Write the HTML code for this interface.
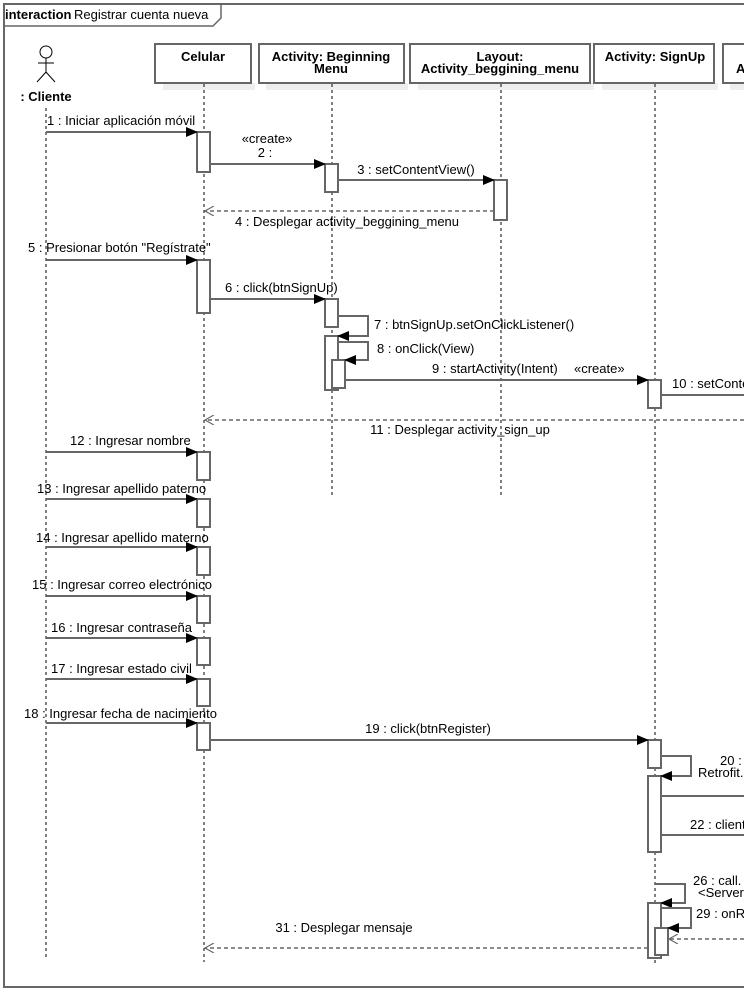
<!DOCTYPE html>
<html><head><meta charset="utf-8"><style>
body{margin:0;background:#fff}
svg{display:block}
text{font-family:"Liberation Sans",Arial,sans-serif;font-size:13px;fill:#000}
.b{font-weight:bold}
.ll{stroke:#000;stroke-width:1;stroke-dasharray:3,3}
.m{stroke:#666;stroke-width:2;fill:none}
.d{stroke:#666;stroke-width:1.5;fill:none;stroke-dasharray:4,3}
.a{fill:#fff;stroke:#666;stroke-width:2}
.h{fill:#fff;stroke:#666;stroke-width:2}
</style></head><body>
<svg width="744" height="997" viewBox="0 0 744 997">
<defs>
<marker id="f" markerWidth="12" markerHeight="10" refX="11" refY="5" orient="auto" markerUnits="userSpaceOnUse"><path d="M0,0 L12,5 L0,10z" fill="#000"/></marker>
<marker id="o" markerWidth="10" markerHeight="10" refX="9" refY="5" orient="auto" markerUnits="userSpaceOnUse"><path d="M0,0 L9,5 L0,10" fill="none" stroke="#666" stroke-width="1.2"/></marker>
</defs>
<rect x="4" y="4" width="760" height="983" fill="none" stroke="#666" stroke-width="2"/>
<path d="M4,26 L213,26 L221,18 L221,4" fill="none" stroke="#666" stroke-width="1.5"/>
<text x="5" y="19" class="b">interaction</text><text x="74" y="19">Registrar cuenta nueva</text>

<g fill="#eee"><rect x="163" y="83" width="92" height="7"/><rect x="266" y="83" width="142" height="7"/><rect x="418" y="83" width="176" height="7"/><rect x="602" y="83" width="116" height="7"/><rect x="730" y="83" width="20" height="7"/></g>
<rect class="h" x="155" y="44" width="96" height="39"/>
<rect class="h" x="259" y="44" width="145" height="39"/>
<rect class="h" x="410" y="44" width="180" height="39"/>
<rect class="h" x="594" y="44" width="120" height="39"/>
<rect class="h" x="723" y="44" width="40" height="39"/>
<text x="203" y="61" class="b" text-anchor="middle">Celular</text>
<text x="331" y="61" class="b" text-anchor="middle">Activity: Beginning</text>
<text x="331" y="73" class="b" text-anchor="middle">Menu</text>
<text x="500" y="61" class="b" text-anchor="middle">Layout:</text>
<text x="500" y="73" class="b" text-anchor="middle">Activity_beggining_menu</text>
<text x="655" y="61" class="b" text-anchor="middle">Activity: SignUp</text>
<text x="736" y="73" class="b">A</text>

<g stroke="#000" stroke-width="1" fill="none"><circle cx="46" cy="52" r="6"/><line x1="46" y1="58" x2="46" y2="72"/><line x1="38" y1="63" x2="54" y2="63"/><line x1="46" y1="72" x2="37" y2="82"/><line x1="46" y1="72" x2="55" y2="82"/></g>
<text x="46" y="101" class="b" text-anchor="middle">: Cliente</text>

<line class="ll" x1="46" y1="108" x2="46" y2="960"/>
<line class="ll" x1="204" y1="84" x2="204" y2="962"/>
<line class="ll" x1="332" y1="84" x2="332" y2="498"/>
<line class="ll" x1="501" y1="84" x2="501" y2="498"/>
<line class="ll" x1="655" y1="84" x2="655" y2="965"/>

<g class="a">
<rect x="197" y="132" width="13" height="40"/>
<rect x="325" y="164" width="13" height="28"/>
<rect x="494" y="180" width="13" height="40"/>
<rect x="197" y="260" width="13" height="53"/>
<rect x="325" y="299" width="13" height="28"/>
<rect x="325" y="336" width="13" height="54"/>
<rect x="332" y="360" width="13" height="28"/>
<rect x="648" y="380" width="13" height="28"/>
<rect x="197" y="452" width="13" height="28"/>
<rect x="197" y="499" width="13" height="28"/>
<rect x="197" y="547" width="13" height="28"/>
<rect x="197" y="596" width="13" height="27"/>
<rect x="197" y="638" width="13" height="27"/>
<rect x="197" y="679" width="13" height="27"/>
<rect x="197" y="723" width="13" height="27"/>
<rect x="648" y="740" width="13" height="28"/>
<rect x="648" y="776" width="13" height="76"/>
<rect x="648" y="903" width="13" height="55"/>
<rect x="655" y="928" width="13" height="27"/>
</g>

<g class="m">
<line x1="46" y1="132" x2="197" y2="132" marker-end="url(#f)"/>
<line x1="210" y1="164" x2="325" y2="164" marker-end="url(#f)"/>
<line x1="338" y1="180" x2="494" y2="180" marker-end="url(#f)"/>
<line x1="46" y1="260" x2="197" y2="260" marker-end="url(#f)"/>
<line x1="210" y1="299" x2="325" y2="299" marker-end="url(#f)"/>
<polyline points="338,316 368,316 368,336 338,336" marker-end="url(#f)"/>
<polyline points="338,342 368,342 368,360 345,360" marker-end="url(#f)"/>
<line x1="345" y1="380" x2="648" y2="380" marker-end="url(#f)"/>
<line x1="661" y1="395" x2="744" y2="395"/>
<line x1="46" y1="452" x2="197" y2="452" marker-end="url(#f)"/>
<line x1="46" y1="499" x2="197" y2="499" marker-end="url(#f)"/>
<line x1="46" y1="547" x2="197" y2="547" marker-end="url(#f)"/>
<line x1="46" y1="596" x2="197" y2="596" marker-end="url(#f)"/>
<line x1="46" y1="638" x2="197" y2="638" marker-end="url(#f)"/>
<line x1="46" y1="679" x2="197" y2="679" marker-end="url(#f)"/>
<line x1="46" y1="723" x2="197" y2="723" marker-end="url(#f)"/>
<line x1="210" y1="740" x2="648" y2="740" marker-end="url(#f)"/>
<polyline points="661,756 691,756 691,776 661,776" marker-end="url(#f)"/>
<line x1="661" y1="796" x2="744" y2="796"/>
<line x1="661" y1="835" x2="744" y2="835"/>
<polyline points="655,884 685,884 685,903 661,903" marker-end="url(#f)"/>
<polyline points="661,908 691,908 691,928 668,928" marker-end="url(#f)"/>
</g>
<g class="d">
<line x1="494" y1="211" x2="205" y2="211" marker-end="url(#o)"/>
<line x1="744" y1="420" x2="205" y2="420" marker-end="url(#o)"/>
<line x1="744" y1="939" x2="669" y2="939" marker-end="url(#o)"/>
<line x1="648" y1="948" x2="205" y2="948" marker-end="url(#o)"/>
</g>

<text x="47" y="125">1 : Iniciar aplicación móvil</text>
<text x="267" y="143" text-anchor="middle">«create»</text>
<text x="265" y="157" text-anchor="middle">2 :</text>
<text x="416" y="174" text-anchor="middle">3 : setContentView()</text>
<text x="347" y="226" text-anchor="middle">4 : Desplegar activity_beggining_menu</text>
<text x="28" y="252">5 : Presionar botón "Regístrate"</text>
<text x="225" y="292">6 : click(btnSignUp)</text>
<text x="374" y="329">7 : btnSignUp.setOnClickListener()</text>
<text x="377" y="353">8 : onClick(View)</text>
<text x="432" y="373">9 : startActivity(Intent)</text>
<text x="574" y="373">«create»</text>
<text x="672" y="388">10 : setConte</text>
<text x="460" y="434" text-anchor="middle">11 : Desplegar activity_sign_up</text>
<text x="70" y="445">12 : Ingresar nombre</text>
<text x="37" y="493">13 : Ingresar apellido paterno</text>
<text x="36" y="542">14 : Ingresar apellido materno</text>
<text x="32" y="589">15 : Ingresar correo electrónico</text>
<text x="51" y="632">16 : Ingresar contraseña</text>
<text x="51" y="673">17 : Ingresar estado civil</text>
<text x="24" y="718">18 : Ingresar fecha de nacimiento</text>
<text x="428" y="733" text-anchor="middle">19 : click(btnRegister)</text>
<text x="720" y="765">20 :</text>
<text x="698" y="777">Retrofit.</text>
<text x="690" y="829">22 : client</text>
<text x="693" y="885">26 : call.</text>
<text x="698" y="897">&lt;Server</text>
<text x="696" y="918">29 : onR</text>
<text x="344" y="932" text-anchor="middle">31 : Desplegar mensaje</text>
</svg>
</body></html>
